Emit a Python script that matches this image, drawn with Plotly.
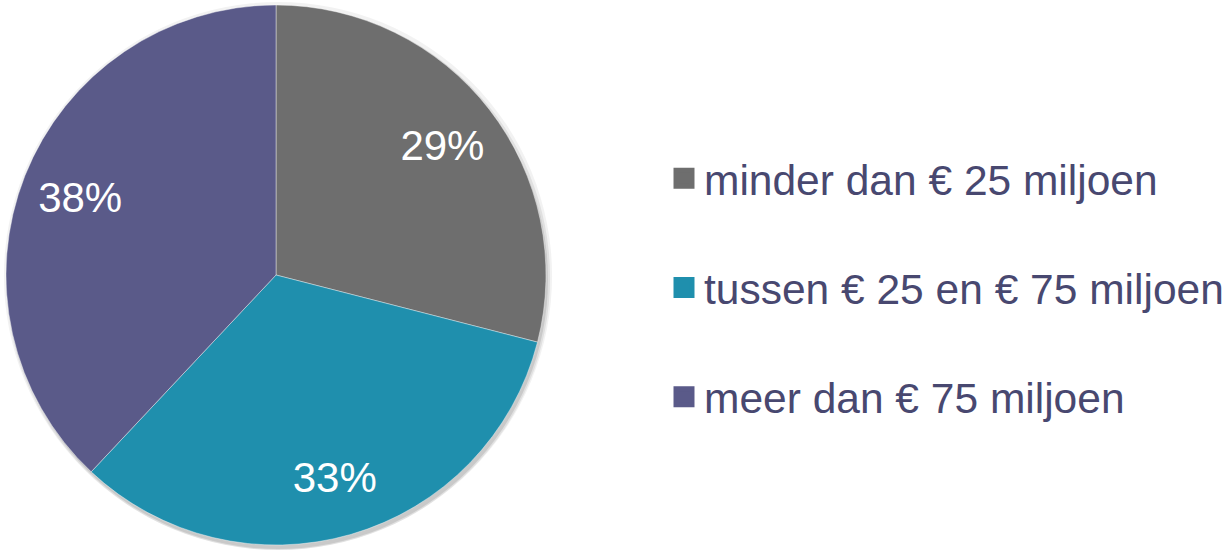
import plotly.graph_objects as go

# data
labels = ['minder dan € 25 miljoen', 'tussen € 25 en € 75 miljoen', 'meer dan € 75 miljoen']
values = [29, 33, 38]
colors = ['#6e6e6e', '#1f8fad', '#5a5a89']

W, H = 1226, 550
FONT = 'Liberation Sans, Arial, sans-serif'
LEGEND_TEXT = '#484870'
PIE_X = [6 / W, 546 / W]
PIE_Y = [5 / H, 545 / H]

fig = go.Figure()

# soft drop shadow: a few grey copies of the pie, nudged down/right
for grow, down, alpha in [(4, 1, 0.05), (2, 3, 0.07), (0, 4, 0.10)]:
    fig.add_trace(go.Pie(
        values=[sum(values)], labels=['shadow'],
        marker=dict(colors=[f'rgba(0,0,0,{alpha})']),
        textinfo='none', hoverinfo='skip', showlegend=False, sort=False,
        domain=dict(x=[(6 + 2 - grow) / W, (546 + 2 + grow) / W],
                    y=[max(0, (5 - down - grow) / H), min(1, (545 - down + grow) / H)]),
    ))

# the coloured slices
fig.add_trace(go.Pie(
    labels=labels, values=values, sort=False,
    direction='clockwise', rotation=0,
    marker=dict(colors=colors, line=dict(color='rgba(255,255,255,0.5)', width=0.8)),
    textinfo='none', showlegend=False,
    domain=dict(x=PIE_X, y=PIE_Y),
))

# transparent ring on top only to carry the % labels further out
fig.add_trace(go.Pie(
    labels=labels, values=values, sort=False,
    direction='clockwise', rotation=0, hole=0.56,
    marker=dict(colors=['rgba(0,0,0,0)'] * len(values), line=dict(width=0)),
    textinfo='percent', textposition='inside', insidetextorientation='horizontal',
    textfont=dict(family=FONT, size=42, color='white'),
    hoverinfo='skip', showlegend=False,
    domain=dict(x=PIE_X, y=PIE_Y),
))

# legend entries (separate groups so the gap between them can be set)
for lab, col in zip(labels, colors):
    fig.add_trace(go.Scatter(
        x=[None], y=[None], mode='markers', name=lab, legendgroup=lab,
        marker=dict(symbol='square', size=16, color=col, line=dict(color=col, width=5)),
    ))

fig.update_layout(
    width=W, height=H,
    margin=dict(l=0, r=0, t=0, b=0, autoexpand=False),
    paper_bgcolor='white', plot_bgcolor='white',
    xaxis=dict(visible=False), yaxis=dict(visible=False),
    legend=dict(x=664 / W, xanchor='left', y=0.477, yanchor='middle',
                font=dict(family=FONT, size=42.5, color=LEGEND_TEXT),
                tracegroupgap=51, bgcolor='rgba(0,0,0,0)'),
    font=dict(family=FONT),
)

# page body has an 8px default margin; drop it so the chart fills the window
fig.write_html('out.html', config={'displayModeBar': False},
               post_script="document.body.style.margin='0';")
